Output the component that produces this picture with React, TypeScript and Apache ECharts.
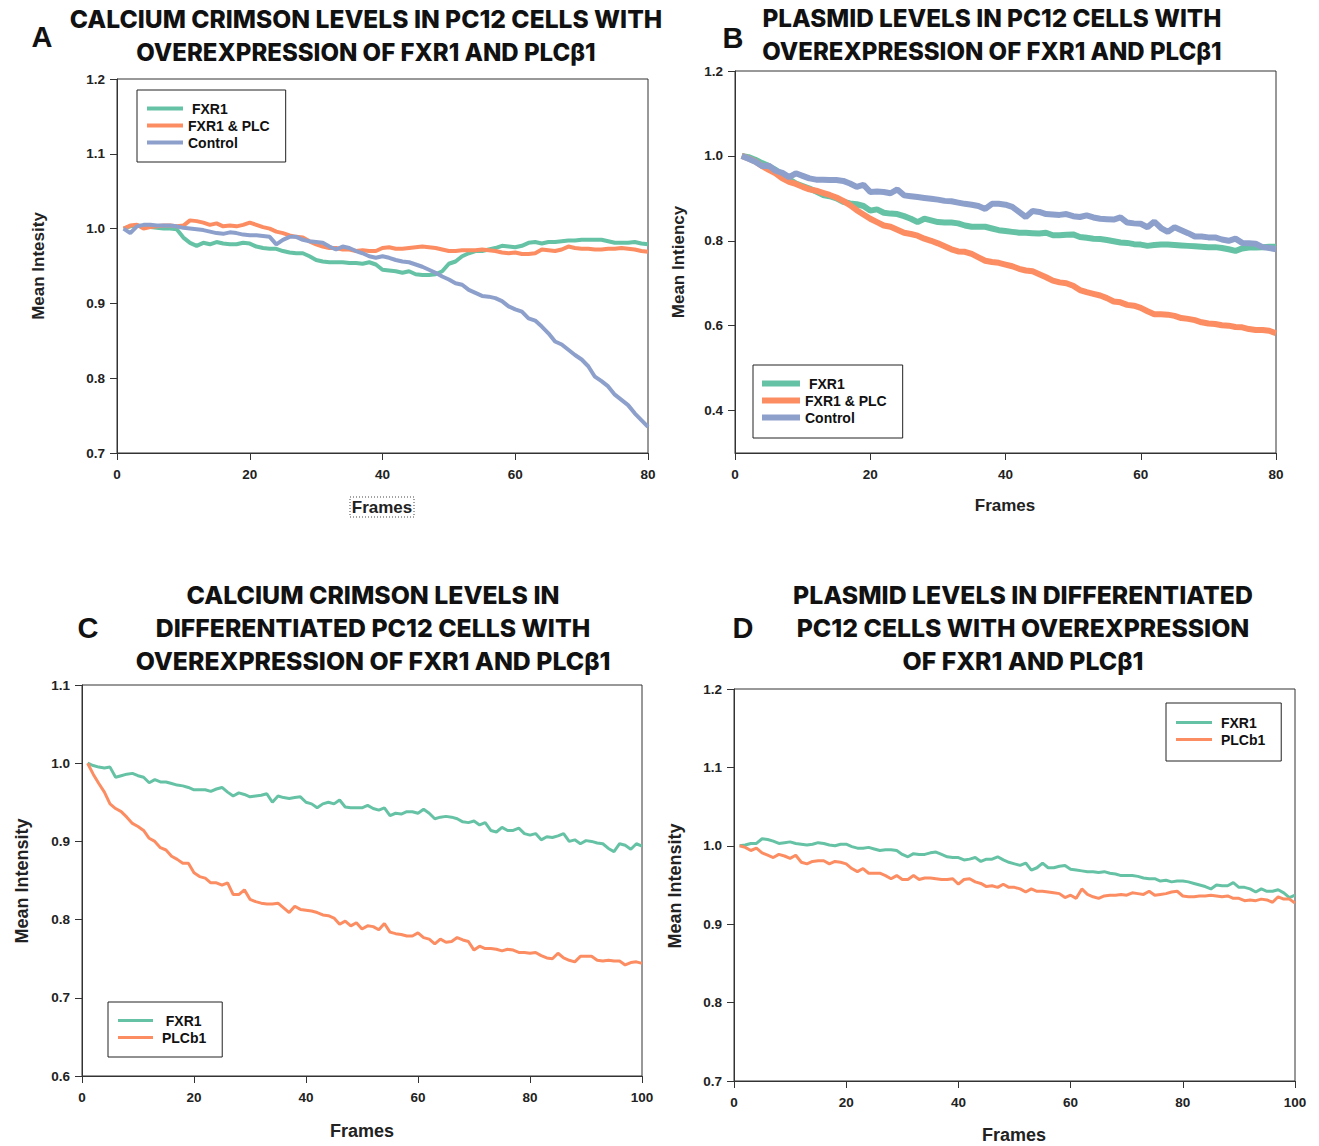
import React, { useEffect, useRef } from "react";
import * as echarts from "echarts";

// ---------- Panel A: Calcium Crimson, PC12 cells (frames 1..80) ----------
const A_FXR1 = [
  1.000, 1.003, 1.004, 1.003, 1.002, 1.001, 1.000, 1.000, 0.999, 0.988,
  0.981, 0.977, 0.981, 0.979, 0.982, 0.980, 0.979, 0.979, 0.981, 0.980,
  0.976, 0.974, 0.973, 0.973, 0.970, 0.968, 0.967, 0.967, 0.963, 0.958,
  0.956, 0.955, 0.955, 0.955, 0.954, 0.954, 0.953, 0.955, 0.952, 0.945,
  0.944, 0.943, 0.941, 0.943, 0.939, 0.938, 0.938, 0.939, 0.943, 0.953,
  0.956, 0.963, 0.967, 0.970, 0.970, 0.972, 0.974, 0.977, 0.976, 0.975,
  0.977, 0.981, 0.982, 0.980, 0.982, 0.982, 0.983, 0.984, 0.984, 0.985,
  0.985, 0.985, 0.985, 0.983, 0.981, 0.981, 0.981, 0.982, 0.980, 0.979,
];
const A_FXR1_PLC = [
  1.000, 1.004, 1.005, 1.000, 1.002, 1.003, 1.004, 1.004, 1.003, 1.004,
  1.011, 1.010, 1.008, 1.005, 1.007, 1.003, 1.004, 1.003, 1.005, 1.008,
  1.005, 1.002, 1.000, 0.996, 0.994, 0.991, 0.989, 0.988, 0.983, 0.979,
  0.976, 0.974, 0.974, 0.972, 0.972, 0.970, 0.971, 0.970, 0.970, 0.974,
  0.975, 0.973, 0.973, 0.974, 0.975, 0.976, 0.975, 0.974, 0.972, 0.970,
  0.970, 0.971, 0.971, 0.971, 0.972, 0.971, 0.970, 0.968, 0.967, 0.968,
  0.966, 0.966, 0.967, 0.972, 0.971, 0.970, 0.972, 0.976, 0.974, 0.973,
  0.973, 0.972, 0.972, 0.973, 0.973, 0.974, 0.973, 0.972, 0.970, 0.969,
];
const A_CONTROL = [
  1.000, 0.994, 1.003, 1.005, 1.005, 1.004, 1.004, 1.004, 1.003, 1.001,
  1.000, 0.999, 0.998, 0.996, 0.994, 0.993, 0.995, 0.994, 0.992, 0.991,
  0.991, 0.990, 0.989, 0.979, 0.985, 0.989, 0.989, 0.985, 0.983, 0.982,
  0.981, 0.976, 0.972, 0.976, 0.974, 0.970, 0.967, 0.963, 0.961, 0.963,
  0.961, 0.958, 0.956, 0.955, 0.952, 0.949, 0.945, 0.941, 0.936, 0.932,
  0.927, 0.925, 0.918, 0.914, 0.910, 0.909, 0.907, 0.903, 0.896, 0.892,
  0.889, 0.880, 0.877, 0.869, 0.860, 0.849, 0.845, 0.838, 0.831, 0.825,
  0.816, 0.802, 0.796, 0.789, 0.778, 0.771, 0.764, 0.753, 0.744, 0.735,
];

// ---------- Panel B: Plasmid levels, PC12 cells (frames 1..80) ----------
const B_FXR1 = [
  1.000, 0.997, 0.991, 0.983, 0.976, 0.967, 0.955, 0.945, 0.935, 0.929,
  0.923, 0.916, 0.908, 0.905, 0.900, 0.892, 0.888, 0.886, 0.882, 0.871,
  0.874, 0.866, 0.864, 0.863, 0.858, 0.852, 0.844, 0.852, 0.848, 0.844,
  0.843, 0.843, 0.841, 0.836, 0.833, 0.833, 0.833, 0.829, 0.825, 0.823,
  0.821, 0.819, 0.819, 0.818, 0.817, 0.819, 0.813, 0.813, 0.814, 0.815,
  0.809, 0.807, 0.805, 0.804, 0.802, 0.799, 0.796, 0.795, 0.792, 0.791,
  0.788, 0.790, 0.791, 0.791, 0.790, 0.789, 0.788, 0.787, 0.786, 0.785,
  0.785, 0.783, 0.780, 0.776, 0.782, 0.784, 0.784, 0.785, 0.786, 0.786,
];
const B_FXR1_PLC = [
  1.000, 0.994, 0.987, 0.976, 0.967, 0.959, 0.947, 0.939, 0.934, 0.927,
  0.921, 0.918, 0.913, 0.908, 0.902, 0.894, 0.884, 0.872, 0.862, 0.852,
  0.844, 0.836, 0.833, 0.826, 0.819, 0.816, 0.812, 0.805, 0.800, 0.794,
  0.787, 0.780, 0.775, 0.774, 0.769, 0.761, 0.753, 0.750, 0.748, 0.744,
  0.740, 0.734, 0.730, 0.728, 0.721, 0.714, 0.706, 0.702, 0.700, 0.694,
  0.684, 0.679, 0.675, 0.671, 0.665, 0.657, 0.655, 0.649, 0.647, 0.642,
  0.634, 0.627, 0.627, 0.626, 0.623, 0.618, 0.616, 0.613, 0.608, 0.605,
  0.604, 0.601, 0.600, 0.597, 0.596, 0.592, 0.590, 0.590, 0.588, 0.582,
];
const B_CONTROL = [
  1.000, 0.993, 0.986, 0.976, 0.977, 0.965, 0.960, 0.950, 0.959, 0.953,
  0.947, 0.944, 0.944, 0.943, 0.943, 0.941, 0.935, 0.927, 0.932, 0.915,
  0.916, 0.915, 0.912, 0.921, 0.907, 0.905, 0.903, 0.901, 0.899, 0.897,
  0.894, 0.893, 0.890, 0.887, 0.885, 0.882, 0.875, 0.887, 0.887, 0.885,
  0.880, 0.868, 0.856, 0.870, 0.868, 0.863, 0.862, 0.861, 0.863, 0.858,
  0.856, 0.860, 0.855, 0.852, 0.851, 0.850, 0.855, 0.843, 0.841, 0.840,
  0.832, 0.845, 0.830, 0.821, 0.832, 0.825, 0.818, 0.810, 0.810, 0.808,
  0.808, 0.803, 0.800, 0.805, 0.795, 0.794, 0.793, 0.785, 0.783, 0.780,
];

// ---------- Panel C: Calcium Crimson, differentiated PC12 (frames 1..100) ----------
const C_FXR1 = [
  1.000, 0.997, 0.995, 0.994, 0.995, 0.982, 0.984, 0.986, 0.987, 0.984,
  0.982, 0.975, 0.979, 0.976, 0.976, 0.974, 0.972, 0.971, 0.969, 0.966,
  0.966, 0.966, 0.964, 0.967, 0.969, 0.963, 0.958, 0.962, 0.960, 0.957,
  0.958, 0.959, 0.961, 0.950, 0.958, 0.956, 0.955, 0.956, 0.957, 0.950,
  0.948, 0.943, 0.948, 0.950, 0.948, 0.953, 0.944, 0.943, 0.943, 0.943,
  0.946, 0.942, 0.940, 0.943, 0.933, 0.936, 0.935, 0.938, 0.938, 0.936,
  0.941, 0.936, 0.929, 0.931, 0.932, 0.931, 0.929, 0.925, 0.924, 0.926,
  0.921, 0.924, 0.914, 0.912, 0.918, 0.914, 0.914, 0.917, 0.910, 0.908,
  0.910, 0.902, 0.906, 0.905, 0.907, 0.910, 0.900, 0.902, 0.897, 0.901,
  0.900, 0.898, 0.897, 0.891, 0.887, 0.897, 0.895, 0.890, 0.897, 0.894,
];
const C_PLCB1 = [
  1.000, 0.986, 0.974, 0.963, 0.948, 0.942, 0.938, 0.931, 0.923, 0.919,
  0.914, 0.904, 0.900, 0.892, 0.889, 0.881, 0.877, 0.872, 0.872, 0.860,
  0.855, 0.853, 0.847, 0.847, 0.844, 0.847, 0.832, 0.832, 0.838, 0.826,
  0.823, 0.821, 0.820, 0.820, 0.821, 0.815, 0.809, 0.817, 0.813, 0.812,
  0.811, 0.809, 0.806, 0.805, 0.802, 0.794, 0.798, 0.792, 0.796, 0.788,
  0.792, 0.791, 0.787, 0.795, 0.784, 0.782, 0.781, 0.779, 0.779, 0.783,
  0.777, 0.775, 0.769, 0.775, 0.771, 0.772, 0.777, 0.774, 0.772, 0.761,
  0.766, 0.763, 0.763, 0.762, 0.760, 0.762, 0.761, 0.758, 0.758, 0.757,
  0.758, 0.754, 0.751, 0.750, 0.757, 0.751, 0.748, 0.746, 0.753, 0.753,
  0.753, 0.748, 0.747, 0.748, 0.747, 0.747, 0.742, 0.745, 0.746, 0.744,
];

// ---------- Panel D: Plasmid levels, differentiated PC12 (frames 1..100) ----------
const D_FXR1 = [
  1.000, 1.001, 1.003, 1.003, 1.009, 1.008, 1.006, 1.003, 1.004, 1.005,
  1.003, 1.002, 1.001, 1.002, 1.004, 1.003, 1.001, 1.000, 1.002, 1.002,
  0.999, 0.997, 0.997, 0.998, 0.996, 0.994, 0.995, 0.995, 0.994, 0.989,
  0.986, 0.990, 0.989, 0.989, 0.991, 0.992, 0.989, 0.986, 0.985, 0.985,
  0.982, 0.983, 0.985, 0.980, 0.983, 0.983, 0.986, 0.982, 0.979, 0.977,
  0.975, 0.978, 0.969, 0.972, 0.978, 0.972, 0.972, 0.974, 0.975, 0.970,
  0.969, 0.968, 0.967, 0.967, 0.966, 0.967, 0.965, 0.964, 0.962, 0.962,
  0.962, 0.961, 0.959, 0.958, 0.958, 0.955, 0.956, 0.954, 0.955, 0.955,
  0.954, 0.952, 0.950, 0.948, 0.945, 0.950, 0.949, 0.949, 0.953, 0.947,
  0.947, 0.945, 0.941, 0.945, 0.942, 0.942, 0.944, 0.940, 0.934, 0.937,
];
const D_PLCB1 = [
  1.000, 0.998, 0.994, 0.997, 0.991, 0.988, 0.985, 0.989, 0.987, 0.984,
  0.988, 0.979, 0.977, 0.980, 0.981, 0.981, 0.977, 0.980, 0.979, 0.977,
  0.971, 0.967, 0.971, 0.965, 0.965, 0.965, 0.962, 0.958, 0.962, 0.957,
  0.957, 0.962, 0.957, 0.959, 0.959, 0.958, 0.957, 0.957, 0.958, 0.951,
  0.957, 0.958, 0.954, 0.952, 0.948, 0.949, 0.947, 0.951, 0.947, 0.947,
  0.945, 0.941, 0.945, 0.942, 0.942, 0.941, 0.940, 0.939, 0.934, 0.937,
  0.933, 0.945, 0.938, 0.935, 0.933, 0.936, 0.937, 0.937, 0.938, 0.937,
  0.940, 0.939, 0.938, 0.942, 0.937, 0.938, 0.939, 0.941, 0.942, 0.936,
  0.935, 0.935, 0.936, 0.936, 0.937, 0.936, 0.935, 0.936, 0.933, 0.933,
  0.930, 0.931, 0.930, 0.932, 0.931, 0.928, 0.935, 0.932, 0.932, 0.927,
];

// ---------- Texts ----------
const TITLE_A = ["CALCIUM CRIMSON LEVELS IN PC12 CELLS WITH", "OVEREXPRESSION OF FXR1 AND PLCβ1"];
const TITLE_B = ["PLASMID LEVELS IN PC12 CELLS WITH", "OVEREXPRESSION OF FXR1 AND PLCβ1"];
const TITLE_C = ["CALCIUM CRIMSON LEVELS IN", "DIFFERENTIATED PC12 CELLS WITH", "OVEREXPRESSION OF FXR1 AND PLCβ1"];
const TITLE_D = ["PLASMID LEVELS IN DIFFERENTIATED", "PC12 CELLS WITH OVEREXPRESSION", "OF FXR1 AND PLCβ1"];
const Y_TITLES = ["Mean Intesity", "Mean Intiency", "Mean Intensity", "Mean Intensity"];
const X_TITLE = "Frames";
const B_Y_TICKS = [0.4, 0.6, 0.8, 1.0, 1.2];

const GREEN = "#66c2a5";
const ORANGE = "#fc8d62";
const BLUE = "#8da0cb";
const AXIS_COLOR = "#333";
const LABEL_FONT = "'Liberation Sans', Arial, sans-serif";
const TITLE_FONT = "Inter, 'DejaVu Sans', sans-serif";

const toPairs = (vals: number[]) => vals.map((v, i) => [i + 1, v]);

function xAxis(gridIndex: number, max: number) {
  return {
    type: "value",
    gridIndex,
    min: 0,
    max,
    interval: 20,
    axisLine: { show: true, onZero: false, lineStyle: { color: AXIS_COLOR, width: 1 } },
    axisTick: { show: true, inside: false, length: 7, lineStyle: { color: AXIS_COLOR, width: 1 } },
    axisLabel: { fontFamily: LABEL_FONT, fontWeight: "bold", fontSize: 13.5, color: "#222", margin: 14 },
    splitLine: { show: false },
  };
}

function yAxis(gridIndex: number, min: number, max: number, interval?: number, custom?: number[]) {
  const ax: any = {
    type: "value",
    gridIndex,
    min,
    max,
    axisLine: { show: true, onZero: false, lineStyle: { color: AXIS_COLOR, width: 1 } },
    axisTick: { show: true, inside: false, length: 7, lineStyle: { color: AXIS_COLOR, width: 1 } },
    axisLabel: {
      fontFamily: LABEL_FONT,
      fontWeight: "bold",
      fontSize: 13.5,
      color: "#222",
      margin: 12,
      formatter: (v: number) => v.toFixed(1),
    },
    splitLine: { show: false },
  };
  if (interval !== undefined) ax.interval = interval;
  if (custom) {
    ax.axisTick.customValues = custom;
    ax.axisLabel.customValues = custom;
  }
  return ax;
}

function lineSeries(name: string, data: number[], color: string, width: number, idx: number) {
  return {
    type: "line",
    name,
    xAxisIndex: idx,
    yAxisIndex: idx,
    data: toPairs(data),
    showSymbol: false,
    symbol: "none",
    smooth: false,
    color,
    itemStyle: { color },
    lineStyle: { color, width },
    z: 2,
  };
}

function legend(
  names: string[],
  left: number,
  top: number,
  padding: number[],
  itemWidth: number,
  itemHeight: number,
  fmt: (n: string) => string
) {
  return {
    data: names,
    orient: "vertical",
    left,
    top,
    padding,
    itemWidth,
    itemHeight,
    itemGap: 0,
    icon: "rect",
    selectedMode: false,
    borderColor: "#222",
    borderWidth: 1,
    borderRadius: 0,
    backgroundColor: "#fff",
    formatter: fmt,
    textStyle: { fontFamily: LABEL_FONT, fontWeight: "bold", fontSize: 14, color: "#111", lineHeight: 17 },
  };
}

function titleLines(lines: string[], cx: number, y0: number, step: number, sizes: number[]) {
  return lines.map((t, i) => ({
    type: "text",
    x: cx,
    y: y0 + i * step,
    style: {
      text: t,
      fontFamily: TITLE_FONT,
      fontWeight: 800,
      fontSize: sizes[i],
      fill: "#111",
      textAlign: "center",
      textVerticalAlign: "middle",
    },
  }));
}

function panelLetter(t: string, x: number, y: number) {
  return {
    type: "text",
    x,
    y,
    style: {
      text: t,
      fontFamily: LABEL_FONT,
      fontWeight: "bold",
      fontSize: 29,
      fill: "#111",
      textAlign: "center",
      textVerticalAlign: "middle",
    },
  };
}

function axisTitle(t: string, x: number, y: number, vertical: boolean, size = 17) {
  return {
    type: "text",
    x,
    y,
    rotation: vertical ? Math.PI / 2 : 0,
    style: {
      text: t,
      fontFamily: LABEL_FONT,
      fontWeight: "bold",
      fontSize: size,
      fill: "#222",
      textAlign: "center",
      textVerticalAlign: "middle",
    },
  };
}

const gridBase = { show: true, borderColor: AXIS_COLOR, borderWidth: 1, backgroundColor: "transparent", containLabel: false };

export default function App() {
  const ref = useRef<HTMLDivElement>(null);
  useEffect(() => {
    if (!ref.current) return;
    const chart = echarts.init(ref.current, undefined, { renderer: "svg" });
    const option: any = {
      animation: false,
      backgroundColor: "#fff",
      grid: [
        { ...gridBase, left: 117, top: 79, width: 531, height: 374 },
        { ...gridBase, left: 735, top: 71, width: 541, height: 382 },
        { ...gridBase, left: 82, top: 685, width: 560, height: 391 },
        { ...gridBase, left: 734, top: 689, width: 561, height: 392 },
      ],
      xAxis: [xAxis(0, 80), xAxis(1, 80), xAxis(2, 100), xAxis(3, 100)],
      yAxis: [
        yAxis(0, 0.7, 1.2, 0.1),
        yAxis(1, 0.3, 1.2, undefined, B_Y_TICKS),
        yAxis(2, 0.6, 1.1, 0.1),
        yAxis(3, 0.7, 1.2, 0.1),
      ],
      legend: [
        legend(["FXR1", "FXR1 & PLC", "Control"], 137, 90, [10, 16, 11, 10], 36, 4, (n) => (n === "FXR1" ? " " + n : n)),
        legend(["FXR1", "FXR1 & PLC", "Control"], 753, 365, [10, 16, 12, 9], 38, 6, (n) => (n === "FXR1" ? " " + n : n)),
        legend(["FXR1", "PLCb1"], 108, 1002, [10, 16, 11, 10], 35, 3, (n) => (n === "FXR1" ? "  " + n : " " + n)),
        legend(["FXR1", "PLCb1"], 1166, 703, [11, 16, 13, 10], 36, 3, (n) => " " + n),
      ],
      series: [
        lineSeries("FXR1", A_FXR1, GREEN, 4, 0),
        lineSeries("FXR1 & PLC", A_FXR1_PLC, ORANGE, 4, 0),
        lineSeries("Control", A_CONTROL, BLUE, 4, 0),
        lineSeries("FXR1", B_FXR1, GREEN, 6, 1),
        lineSeries("FXR1 & PLC", B_FXR1_PLC, ORANGE, 6, 1),
        lineSeries("Control", B_CONTROL, BLUE, 6, 1),
        lineSeries("FXR1", C_FXR1, GREEN, 3, 2),
        lineSeries("PLCb1", C_PLCB1, ORANGE, 3, 2),
        lineSeries("FXR1", D_FXR1, GREEN, 3, 3),
        lineSeries("PLCb1", D_PLCB1, ORANGE, 3, 3),
      ],
      graphic: [
        ...titleLines(TITLE_A, 366, 19, 33, [24.6, 24.0]),
        ...titleLines(TITLE_B, 992, 18, 33, [24.3, 24.0]),
        ...titleLines(TITLE_C, 373, 595, 33, [24.8, 24.8, 24.8]),
        ...titleLines(TITLE_D, 1023, 595, 33, [24.8, 24.8, 24.8]),
        panelLetter("A", 42, 37),
        panelLetter("B", 733, 38),
        panelLetter("C", 88, 628),
        panelLetter("D", 743, 628),
        axisTitle(Y_TITLES[0], 38, 266, true),
        axisTitle(Y_TITLES[1], 678, 262, true),
        axisTitle(Y_TITLES[2], 22, 881, true, 18),
        axisTitle(Y_TITLES[3], 675, 886, true, 18),
        axisTitle(X_TITLE, 382, 507, false),
        {
          type: "rect",
          shape: { x: 350, y: 497, width: 64, height: 20 },
          style: { fill: "none", stroke: "#444", lineWidth: 1, lineDash: [1, 2] },
        },
        axisTitle(X_TITLE, 1005, 505, false),
        axisTitle(X_TITLE, 362, 1131, false, 18),
        axisTitle(X_TITLE, 1014, 1135, false, 18),
      ],
    };
    chart.setOption(option);
    return () => chart.dispose();
  }, []);
  return <div ref={ref} style={{ position: "absolute", left: 0, top: 0, width: 1319, height: 1146 }} />;
}
